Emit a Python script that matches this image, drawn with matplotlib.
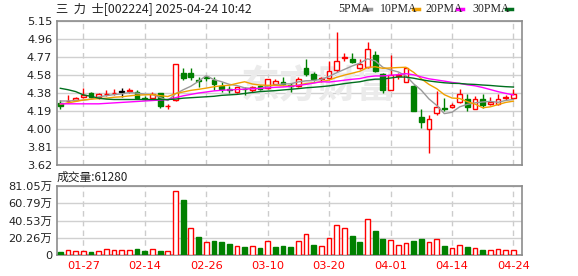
import numpy as np
import pandas as pd
import matplotlib
matplotlib.use('Agg')
import matplotlib.pyplot as plt
from matplotlib.lines import Line2D

plt.rcParams['font.family'] = ['DejaVu Sans', 'Noto Sans CJK SC']

# ---------------- data ----------------
tick_pos = [3, 11, 19, 27, 35, 43, 51, 59]
tick_labels = ['01-27', '02-14', '02-26', '03-10', '03-20', '04-01', '04-14', '04-24']

opens = [4.28, 4.30, 4.31, 4.34, 4.385, 4.34, 4.37, 4.38, 4.40, 4.41,
         4.40, 4.335, 4.335, 4.38, 4.245, 4.31, 4.60, 4.60, 4.52, 4.55,
         4.52, 4.455, 4.425, 4.40, 4.43, 4.415, 4.455, 4.44, 4.48, 4.50,
         4.465, 4.46, 4.65, 4.59, 4.535, 4.54, 4.63, 4.76, 4.75, 4.655,
         4.665, 4.79, 4.59, 4.42, 4.57, 4.505, 4.46, 4.135, 4.00, 4.17,
         4.225, 4.235, 4.29, 4.32, 4.21, 4.32, 4.27, 4.27, 4.335, 4.33]
closes = [4.25, 4.305, 4.335, 4.36, 4.345, 4.37, 4.375, 4.39, 4.40, 4.415,
          4.335, 4.325, 4.37, 4.245, 4.25, 4.69, 4.54, 4.56, 4.51, 4.545,
          4.48, 4.43, 4.42, 4.445, 4.425, 4.45, 4.43, 4.53, 4.515, 4.48,
          4.46, 4.53, 4.59, 4.53, 4.54, 4.62, 4.725, 4.765, 4.71, 4.69,
          4.85, 4.62, 4.42, 4.575, 4.58, 4.65, 4.19, 4.08, 4.11, 4.24,
          4.21, 4.26, 4.37, 4.24, 4.32, 4.26, 4.29, 4.32, 4.34, 4.37]
highs = [4.31, 4.36, 4.345, 4.44, 4.40, 4.38, 4.42, 4.43, 4.435, 4.44,
         4.42, 4.35, 4.395, 4.39, 4.27, 4.69, 4.65, 4.65, 4.55, 4.57,
         4.55, 4.50, 4.46, 4.45, 4.45, 4.46, 4.47, 4.53, 4.53, 4.55,
         4.49, 4.56, 4.75, 4.61, 4.56, 4.73, 5.03, 4.81, 4.81, 4.75,
         4.93, 4.83, 4.60, 4.79, 4.60, 4.66, 4.47, 4.21, 4.15, 4.41,
         4.33, 4.28, 4.43, 4.37, 4.35, 4.37, 4.34, 4.37, 4.36, 4.43]
lows = [4.22, 4.28, 4.30, 4.33, 4.33, 4.32, 4.35, 4.36, 4.345, 4.38,
        4.33, 4.31, 4.32, 4.23, 4.22, 4.30, 4.52, 4.52, 4.45, 4.51,
        4.42, 4.40, 4.38, 4.38, 4.36, 4.40, 4.42, 4.43, 4.47, 4.47,
        4.40, 4.45, 4.57, 4.51, 4.50, 4.52, 4.61, 4.72, 4.70, 4.64,
        4.65, 4.605, 4.38, 4.42, 4.53, 4.50, 4.19, 4.01, 3.75, 4.15,
        4.19, 4.23, 4.28, 4.19, 4.21, 4.23, 4.26, 4.26, 4.31, 4.32]
# volume in 万
volumes = [3.5, 5.5, 4.3, 4.3, 3.5, 4.3, 6.7, 5.5, 5.5, 5.5,
           7.0, 4.7, 6.7, 4.7, 4.3, 74.8, 64.6, 31.3, 21.2, 14.9,
           16.4, 15.3, 12.9, 10.2, 9.4, 10.2, 8.2, 16.1, 9.4, 10.6,
           9.4, 16.1, 24.3, 11.7, 10.2, 19.6, 34.9, 31.3, 22.3, 15.3,
           41.9, 28.2, 18.8, 17.2, 11.4, 13.7, 16.4, 18.8, 14.9, 18.4,
           10.6, 7.8, 11.4, 9.4, 7.8, 5.9, 5.5, 6.7, 5.5, 6.128]

# moving-average values at the left edge (history before the window)
ma5_lead = [4.30, 4.30, 4.305, 4.31]
ma10_lead = [4.265, 4.28, 4.295, 4.31, 4.32, 4.325, 4.33, 4.34, 4.345]
ma20_lead = [4.27, 4.27, 4.27, 4.27, 4.27, 4.27, 4.275, 4.28, 4.285, 4.29,
             4.295, 4.30, 4.305, 4.31, 4.315, 4.335, 4.355, 4.37, 4.385]
ma30_lead = [4.435, 4.42, 4.40, 4.365, 4.35, 4.33, 4.32, 4.316, 4.316, 4.316,
             4.316, 4.316, 4.316, 4.316, 4.316, 4.32, 4.33, 4.335, 4.34, 4.345,
             4.35, 4.36, 4.365, 4.37, 4.38, 4.39, 4.40, 4.405, 4.41]

price_ticks = [3.62, 3.81125, 4.0025, 4.19375, 4.385, 4.57625, 4.7675, 4.95875, 5.15]
price_labels = ['3.62', '3.81', '4.00', '4.19', '4.38', '4.58', '4.77', '4.96', '5.15']
vol_ticks = [0, 20.2625, 40.525, 60.7875, 81.05]
vol_labels = ['0', '20.26万', '40.53万', '60.79万', '81.05万']

# ---------------- figure ----------------
W, H = 578, 276
fig = plt.figure(figsize=(W / 100, H / 100), dpi=100)
L, R = 57, 522
ax = fig.add_axes([L / W, 1 - 165 / H, (R - L) / W, 144 / H])
axv = fig.add_axes([L / W, 1 - 255 / H, (R - L) / W, 69 / H])

o = np.array(opens); c = np.array(closes); h = np.array(highs); lo = np.array(lows)
n = len(c)
x = np.arange(n)
RED, GRN = '#ff0000', '#008000'

up = c > o
dn = c < o
edge = np.where(up, RED, np.where(dn, GRN, '#000000'))
face = np.where(up, 'white', np.where(dn, GRN, '#000000'))

ax.vlines(x, lo, h, colors=edge, lw=1.0, zorder=3)
body_b = np.minimum(o, c)
body_h = np.maximum(np.abs(c - o), 0.003)
ax.bar(x, body_h, bottom=body_b, width=0.62, color=face, edgecolor=edge,
       linewidth=1.0, zorder=4)

s = pd.Series(c)
def ma(win, lead):
    m = s.rolling(win).mean().to_numpy()
    m[:len(lead)] = lead
    return m
ma5 = ma(5, ma5_lead); ma10 = ma(10, ma10_lead)
ma20 = ma(20, ma20_lead); ma30 = ma(30, ma30_lead)
ma_cols = ['#999999', '#f0a000', '#ff00ff', '#006f1e']
for m, col in zip([ma5, ma10, ma20, ma30], ma_cols):
    ax.plot(x, m, color=col, lw=1.0, zorder=5)

# watermark
ax.text(23.5, 4.45, '东方财富', fontsize=28, color='#ebebeb', family=['Noto Sans CJK SC'],
        fontweight='bold', ha='left', va='center', zorder=1)

xlim = ((L - 60.3) / 7.68, (R - 60.3) / 7.68)
for a in (ax, axv):
    a.set_xlim(*xlim)
    a.set_xticks(tick_pos)
    a.xaxis.grid(True, color='#cccccc', lw=1, ls=(0, (4, 3)))
    a.yaxis.grid(True, color='#d0d0d0', lw=1, ls='-')
    a.set_axisbelow(True)
    for sp in a.spines.values():
        sp.set_color('#8c8c8c'); sp.set_linewidth(1.2)
    a.tick_params(length=0, labelsize=8.2, labelcolor='#222222', pad=3.5)

ax.set_ylim(3.62, 5.15)
ax.set_yticks(price_ticks)
ax.set_yticklabels(price_labels)
ax.set_xticklabels([])

# volume
prev = np.r_[o[0], c[:-1]]
vup = c >= prev
vol = np.array(volumes)
vcol = np.where(vup, RED, GRN)
vface = np.where(vup, 'white', GRN)
axv.bar(x, vol, width=0.62, color=vface, edgecolor=vcol, linewidth=1.0, zorder=3)
axv.set_ylim(0, 81.05)
axv.set_yticks(vol_ticks)
axv.set_yticklabels(vol_labels)
axv.set_xticklabels(tick_labels, color=RED)
axv.tick_params(axis='x', pad=4)

# header texts
fig.text(56 / W, 1 - 9 / H, '三  力  士[002224] 2025-04-24 10:42', fontsize=8.8,
         family=['Noto Sans CJK SC', 'DejaVu Sans'], color='#222222', va='center', ha='left')
fig.text(57 / W, 1 - 177.5 / H, '成交量:61280', fontsize=8.5,
         family=['Noto Sans CJK SC', 'DejaVu Sans'], color='#222222', va='center', ha='left')

legend_items = [('5PMA', 338.3, 364.5, 370.5, ma_cols[0]),
                ('10PMA', 380, 412.5, 418.5, ma_cols[1]),
                ('20PMA', 425.7, 456.5, 462.5, ma_cols[2]),
                ('30PMA', 472.3, 505.5, 511.5, ma_cols[3])]
for lab, tx, d0, d1, col in legend_items:
    fig.text(tx / W, 1 - 9 / H, lab, fontsize=8.5, family=['Liberation Serif'],
             color='#222222', va='center', ha='left')
    fig.add_artist(Line2D([d0 / W, d1 / W], [1 - 8.5 / H, 1 - 8.5 / H],
                          transform=fig.transFigure, color=col, lw=2.5))

fig.savefig('out.png', dpi=100, facecolor='white')
